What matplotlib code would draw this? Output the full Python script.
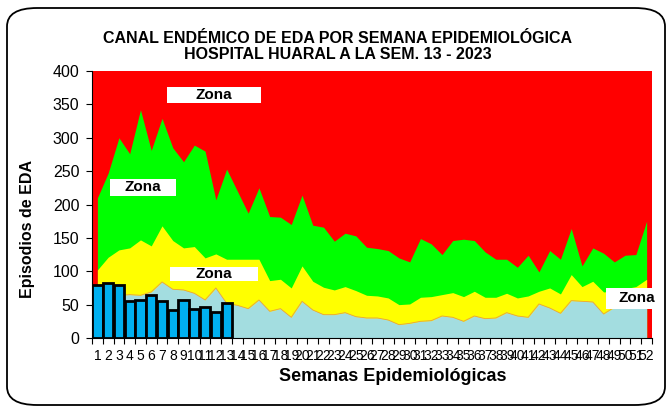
import matplotlib
matplotlib.use("Agg")
import matplotlib.pyplot as plt
from matplotlib.patches import Rectangle, FancyBboxPatch
import numpy as np

plt.rcParams["font.family"] = ["Liberation Sans", "DejaVu Sans"]

# Semanas epidemiológicas
semanas = np.arange(1, 53)

# Límites del canal endémico (techo de cada zona)
zona_exito = [62, 64, 64, 65, 64, 69, 84, 73, 72, 67, 57, 75, 52, 49, 44, 57, 40, 44, 31, 55,
              42, 35, 35, 38, 32, 30, 30, 27, 20, 22, 25, 26, 33, 31, 25, 33, 29, 30, 38, 33,
              31, 51, 45, 37, 56, 55, 54, 36, 46, 47, 48, 50]
zona_seguridad = [102, 121, 132, 135, 147, 138, 168, 146, 135, 137, 120, 126, 118, 118, 118, 118, 86, 88, 75, 108,
                  85, 76, 72, 77, 71, 64, 63, 60, 50, 51, 61, 62, 65, 68, 62, 70, 61, 61, 67, 60,
                  63, 70, 75, 66, 95, 77, 85, 69, 70, 74, 77, 88]
zona_alarma = [210, 247, 300, 276, 342, 281, 329, 285, 264, 289, 280, 207, 253, 220, 187, 225, 182, 181, 170, 214,
               169, 166, 145, 157, 153, 136, 134, 131, 120, 114, 149, 141, 125, 146, 148, 146, 129, 118, 118, 106,
               124, 99, 131, 118, 164, 108, 135, 127, 114, 124, 125, 175]

# Casos 2023 hasta la semana 13
semanas_2023 = np.arange(1, 14)
casos_2023 = [79, 83, 79, 56, 57, 65, 56, 42, 57, 44, 46, 39, 53]

fig = plt.figure(figsize=(6.7, 4.09), dpi=100)
ax = fig.add_axes([92 / 670, 1 - 338 / 409, 560 / 670, 267 / 409])

# Zona de epidemia (fondo rojo)
ax.set_facecolor("#ff0000")
ax.fill_between(semanas, 0, zona_alarma, color="#00ff00", lw=0)
ax.fill_between(semanas, 0, zona_seguridad, color="#ffff00", lw=0)
ax.fill_between(semanas, 0, zona_exito, color="#a3dde0", lw=0)
ax.plot(semanas, zona_exito, color="#e8a040", lw=0.6)

ax.bar(semanas_2023, casos_2023, width=0.95, color="#00b0f0",
       edgecolor="black", linewidth=2, zorder=3)

ax.set_xlim(0.5, 52.5)
ax.set_ylim(0, 400)
ax.set_yticks(np.arange(0, 401, 50))
ax.set_xticks(semanas)
ax.set_xticklabels([str(s) for s in semanas], fontsize=10)
ax.set_xticks(np.arange(0.5, 53, 1), minor=True)
ax.tick_params(axis="x", which="major", length=0, pad=8)
ax.tick_params(axis="x", which="minor", length=4, width=0.8)
ax.tick_params(axis="y", length=4, width=0.8, pad=5, labelsize=11.5)
for s in ["top", "right"]:
    ax.spines[s].set_visible(False)

ax.set_xlabel("Semanas Epidemiológicas", fontsize=13, fontweight="bold")
ax.xaxis.label.set_va("center")
ax.xaxis.set_label_coords(0.5375, -0.146)
ax.set_ylabel("Episodios de EDA", fontsize=11.5, fontweight="bold")
ax.yaxis.label.set_va("center")
ax.yaxis.set_label_coords(-0.116, 0.408)

# Etiquetas "Zona"
cajas = [(0.134, 0.880, 0.168, 0.060), (0.032, 0.532, 0.118, 0.064),
         (0.139, 0.213, 0.157, 0.052), (0.918, 0.109, 0.096, 0.079)]
textos = [(0.217, 0.910), (0.091, 0.564), (0.217, 0.240), (0.972, 0.148)]
for (x0, y0, w, h), (tx, ty) in zip(cajas, textos):
    ax.add_patch(Rectangle((x0, y0), w, h, transform=ax.transAxes, facecolor="white",
                           edgecolor="none", zorder=4, clip_on=False))
    ax.text(tx, ty, "Zona", transform=ax.transAxes, ha="center", va="center",
            fontsize=11, fontweight="bold", zorder=5)

fig.suptitle("CANAL ENDÉMICO DE EDA POR SEMANA EPIDEMIOLÓGICA\nHOSPITAL HUARAL A LA SEM. 13 - 2023",
             x=0.504, y=0.925, va="top", fontsize=11.5, fontweight="bold", linespacing=1.15)

# Marco redondeado del gráfico
fig.patches.append(FancyBboxPatch((7 / 670, 4 / 409), 658 / 670, 397 / 409,
                                  boxstyle="round,pad=0,rounding_size=0.045",
                                  transform=fig.transFigure, facecolor="none",
                                  edgecolor="black", linewidth=1.3))

fig.savefig("out.png", dpi=100)
